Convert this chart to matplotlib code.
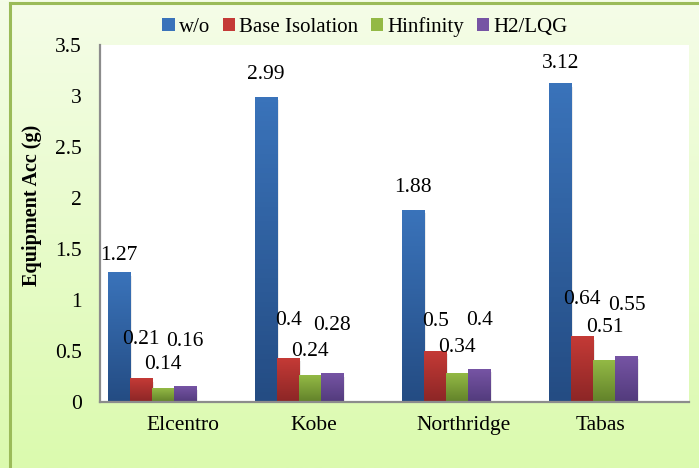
import numpy as np
import matplotlib
matplotlib.use("Agg")
import matplotlib.pyplot as plt
from matplotlib.patches import Patch
from matplotlib.colors import LinearSegmentedColormap

# data
categories = ["Elcentro", "Kobe", "Northridge", "Tabas"]
series = ["w/o", "Base Isolation", "Hinfinity", "H2/LQG"]
# drawn bar heights
wo = [1.27, 2.99, 1.88, 3.12]
base_iso = [0.23, 0.43, 0.50, 0.64]
hinf = [0.13, 0.255, 0.275, 0.41]
h2lqg = [0.15, 0.28, 0.32, 0.45]
# data label texts as printed on the chart
wo_lab = ["1.27", "2.99", "1.88", "3.12"]
base_iso_lab = ["0.21", "0.4", "0.5", "0.64"]
hinf_lab = ["0.14", "0.24", "0.34", "0.51"]
h2lqg_lab = ["0.16", "0.28", "0.4", "0.55"]

# layout: where each data label sits (y, data units)
label_y = [[1.44, 3.21, 2.10, 3.32],
           [0.61, 0.80, 0.79, 1.00],
           [0.37, 0.50, 0.53, 0.73],
           [0.59, 0.75, 0.80, 0.95]]
tick_shift = [0.21, 0.10, 0.12, 0.05]

# (top, bottom) gradient colours per series
colors = [("#3A73BA", "#244C83"),
          ("#C43A36", "#8C2626"),
          ("#93B945", "#62822A"),
          ("#7654A4", "#523B7C")]

FS = 15.5

plt.rcParams['font.family'] = ['Liberation Serif', 'DejaVu Serif']

fig = plt.figure(figsize=(6.99, 4.68), dpi=100)

# background panel with green gradient
bg = fig.add_axes([0, 0, 1, 1], zorder=-10)
grad = np.linspace(0, 1, 256).reshape(-1, 1)
bg_cmap = LinearSegmentedColormap.from_list("bg", ["#F5FDE8", "#DBFAAE"])
bg.imshow(grad, cmap=bg_cmap, aspect="auto", extent=[0, 1, 0, 1], origin="upper")
bg.plot([10 / 699, 10 / 699], [0, 1 - 3 / 468], color="#9BBB59", lw=2.2)
bg.plot([10 / 699, 1], [1 - 3 / 468, 1 - 3 / 468], color="#9BBB59", lw=2.2)
bg.set_xlim(0, 1)
bg.set_ylim(0, 1)
bg.axis("off")

ax = fig.add_axes([100 / 699, 66 / 468, 589 / 699, 357 / 468])
ax.set_facecolor("white")

values = [wo, base_iso, hinf, h2lqg]
labels = [wo_lab, base_iso_lab, hinf_lab, h2lqg_lab]
x = np.arange(len(categories))
width = 0.15
offsets = [-1.5 * width, -0.5 * width, 0.5 * width, 1.5 * width]

for i, vals in enumerate(values):
    cmap = LinearSegmentedColormap.from_list("c%d" % i, [colors[i][1], colors[i][0]])
    bars = ax.bar(x + offsets[i], vals, width, color=colors[i][0], linewidth=0, zorder=2)
    for b in bars:
        x0 = b.get_x()
        h = b.get_height()
        # soft shadow to the right/below
        ax.bar(x0 + b.get_width() / 2 + 0.012, h, b.get_width(), bottom=-0.03,
               color="#000000", alpha=0.08, linewidth=0, zorder=1)
        ax.imshow(np.linspace(0, 1, 64).reshape(-1, 1), cmap=cmap, origin="lower",
                  extent=[x0, x0 + b.get_width(), 0, h], aspect="auto", zorder=3)
    for j in range(len(categories)):
        ax.text(x[j] + offsets[i], label_y[i][j], labels[i][j], ha="center",
                va="center", fontsize=FS, zorder=4)

ax.set_xlim(-0.354, 3.65)
ax.set_ylim(0, 3.5)
ax.set_yticks(np.arange(0, 3.51, 0.5))
ax.set_yticklabels(["%g" % v for v in np.arange(0, 3.51, 0.5)], fontsize=FS)
ax.set_xticks(x + np.array(tick_shift))
ax.set_xticklabels(categories, fontsize=FS)
ax.tick_params(axis="y", length=0, pad=13)
ax.tick_params(axis="x", length=0, pad=10)

for s in ["top", "right"]:
    ax.spines[s].set_visible(False)
for s in ["left", "bottom"]:
    ax.spines[s].set_color("#8C8C8C")
    ax.spines[s].set_linewidth(1.6)
    ax.spines[s].set_zorder(5)

ax.set_ylabel("Equipment Acc (g)", fontsize=14.5, fontweight="bold")
ax.yaxis.set_label_coords(-0.098, 0.55)

handles = [Patch(facecolor=c[0], edgecolor="none") for c in colors]
fig.legend(handles, series, loc="center", bbox_to_anchor=(365 / 699, 1 - 27 / 468),
           ncol=4, frameon=False, fontsize=15, handlelength=0.6, handleheight=0.6,
           handletextpad=0.2, columnspacing=0.6, borderaxespad=0)

fig.savefig("out.png", dpi=100)
